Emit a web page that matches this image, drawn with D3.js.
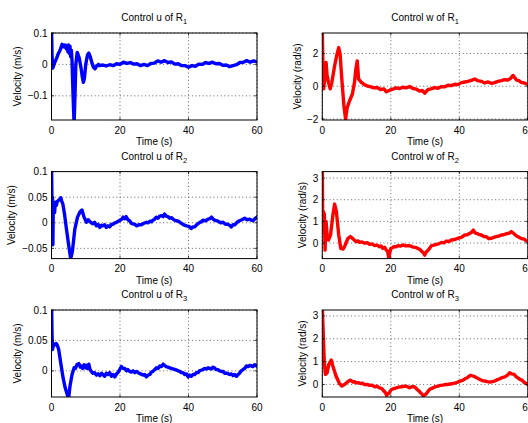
<!DOCTYPE html>
<html>
<head>
<meta charset="utf-8">
<script src="https://cdn.jsdelivr.net/npm/d3@7"></script>
<style>
  html, body { margin: 0; padding: 0; background: #fff; }
  svg { display: block; }
  text { font-family: "Liberation Sans", Arial, Helvetica, sans-serif; fill: #000; }
</style>
</head>
<body>
<svg id="chart" width="528" height="423"></svg>
<script>
// Recorded control inputs of three robots: [time (s), value]
const u1 = [[0,0.12],[0.15,0.03],[0.35,-0.012],[0.9,0.005],[1.5,0.02],[1.9,0.032],[2.5,0.045],[3.1,0.064],[3.5,0.056],[3.9,0.062],[4.3,0.05],[4.6,0.06],[4.8,0.04],[5.0,0.062],[5.2,0.035],[5.4,0.058],[5.6,0.025],[5.8,0.045],[6.0,0.01],[6.3,-0.1],[6.6,-0.19],[6.9,-0.08],[7.1,0.0],[7.5,0.038],[7.8,0.03],[8.1,0.02],[8.6,-0.01],[9.0,-0.04],[9.3,-0.057],[9.6,-0.045],[10.0,0.0],[10.5,0.03],[10.9,0.036],[11.3,0.025],[11.8,0.005],[12.3,-0.01],[12.7,-0.014],[13.2,-0.005],[13.7,0.0],
  [14,-0.004],[15,-0.002],[16,-0.005],[17,-0.001],[18,-0.004],[19,0.002],[20,0.0],[21,0.007],[22,0.003],[23,0.006],[24,0.001],[25,0.002],[26,-0.004],[27,0.0],[28,-0.004],[29,0.003],[30,0.004],[31,0.011],[32,0.007],[33,0.012],[34,0.006],[35,0.008],[36,0.001],[37,0.002],[38,-0.004],[39,-0.004],[40,-0.009],[41,-0.004],[42,-0.006],[43,0.001],[44,0.0],[45,0.006],[46,0.003],[47,0.007],[48,0.002],[49,0.003],[50,-0.003],[51,-0.002],[52,-0.007],[53,-0.004],[54,-0.001],[55,0.006],[56,0.007],[57,0.012],[58,0.007],[59,0.011],[60,0.008]];

const w1 = [[0,3.4],[0.2,1.0],[0.4,-0.16],[0.7,0.44],[1.1,1.45],[1.4,0.65],[1.8,0.24],[2.3,-0.16],[2.8,0.24],[3.6,1.25],[4.3,1.96],[4.8,2.36],[5.2,1.96],[5.7,0.44],[6.3,-1.17],[6.8,-2.0],[7.3,-1.27],[8.0,-0.87],[8.8,-0.46],[9.4,0.24],[9.8,1.05],[10.2,1.55],[10.6,0.44],[11.4,0.24],[12.4,0.08],[13.3,0.0],[14,-0.02],[15,-0.1],[16,-0.08],[17,-0.2],[18,-0.16],[18.7,-0.34],[19.7,-0.24],[20.6,-0.18],[21.5,-0.1],[22.5,-0.14],[23.5,-0.06],[24.5,-0.1],[25.5,-0.02],[26.5,-0.14],[27.5,-0.18],[28.5,-0.3],[29.2,-0.26],[29.9,-0.42],[30.9,-0.2],[31.8,-0.16],[32.8,-0.08],[33.8,-0.12],[34.8,-0.02],[35.7,-0.04],[36.7,0.06],[37.7,0.04],[38.7,0.12],[39.6,0.1],[40.6,0.22],[41.6,0.26],[42.5,0.3],[43.5,0.36],[44.5,0.44],[45.4,0.34],[46.4,0.3],[47.4,0.2],[48.4,0.26],[49.4,0.18],[50.3,0.22],[51.3,0.3],[52.3,0.34],[53.2,0.4],[54.2,0.38],[55.0,0.48],[55.7,0.66],[56.7,0.38],[57.4,0.34],[58.1,0.24],[59,0.2],[59.9,0.12]];

const u2 = [[0,0.12],[0.1,0.06],[0.2,-0.04],[0.3,0.05],[0.4,-0.043],[0.5,0.02],[0.7,0.03],[0.9,0.02],[1.1,0.04],[1.4,0.034],[1.7,0.042],[2.1,0.044],[2.4,0.046],[2.7,0.049],[3.0,0.042],[3.3,0.037],[3.8,0.017],[4.3,-0.009],[5.0,-0.043],[5.6,-0.07],[6.1,-0.056],[6.8,-0.013],[7.6,0.011],[8.3,0.021],[8.9,0.025],[9.5,0.011],[10.2,0.001],[10.7,0.006],[11.1,0.003],[11.6,0.0],[12.1,-0.002],[12.6,0.001],[13.1,-0.006],[13.6,-0.003],[14.1,-0.009],[14.6,-0.005],[15,-0.006],[15.5,-0.004],[16,-0.009],[16.5,-0.006],[17,-0.008],[17.5,-0.003],[18,-0.003],[18.5,0.0],[19,0.001],[19.5,0.003],[20,0.005],[20.5,0.007],[20.9,0.011],[21.4,0.008],[21.8,0.012],[22.3,0.006],[22.8,0.004],[23.3,-0.001],[23.8,-0.002],[24.3,-0.003],[24.8,-0.006],[25.5,-0.004],[26.2,-0.004],[27,-0.001],[27.7,0.001],[28.2,0.0],[28.7,0.003],[29.2,0.002],[29.6,0.005],[30.1,0.007],[30.6,0.011],[31.1,0.009],[31.6,0.013],[32.1,0.014],[32.6,0.012],[33.0,0.017],[33.5,0.013],[34,0.012],[34.5,0.009],[35,0.01],[35.7,0.006],[36.4,0.004],[37.1,0.003],[37.9,-0.001],[38.6,-0.004],[39.4,-0.006],[40.1,-0.007],[40.8,-0.011],[41.3,-0.008],[41.8,-0.008],[42.5,-0.003],[43.3,0.001],[43.8,0.002],[44.2,0.005],[45,0.004],[45.7,0.007],[46.2,0.008],[46.7,0.011],[47.2,0.007],[47.6,0.005],[48.1,0.004],[48.6,0.003],[49.4,0.0],[50.1,0.001],[50.8,-0.003],[51.5,-0.003],[52,-0.005],[52.5,-0.008],[53,-0.004],[53.5,-0.004],[54.2,0.001],[54.9,0.004],[55.6,0.006],[56.4,0.009],[57.1,0.006],[57.9,0.007],[58.4,0.005],[58.8,0.004],[59.4,0.008],[60,0.011]];

const w2 = [[0,3.5],[0.15,0.6],[0.3,1.46],[0.5,1.1],[0.6,1.35],[0.8,-0.33],[1.1,1.0],[1.4,0.37],[1.8,0.14],[2.4,0.37],[3.1,1.3],[3.6,1.8],[4.1,1.46],[4.8,0.37],[5.4,-0.25],[6.1,-0.28],[6.7,-0.09],[7.5,0.22],[8.2,0.3],[9.0,0.19],[9.9,0.06],[10.4,0.1],[10.9,0.03],[11.6,0.05],[12.4,-0.01],[13.1,0.02],[13.8,-0.06],[14.5,-0.04],[15.3,-0.12],[16,-0.1],[16.7,-0.17],[17.2,-0.14],[17.7,-0.25],[18.2,-0.2],[18.7,-0.33],[19.1,-0.4],[19.4,-0.68],[19.7,-0.45],[20,-0.25],[20.5,-0.22],[20.9,-0.17],[21.5,-0.18],[22.1,-0.12],[22.8,-0.14],[23.6,-0.09],[24.3,-0.13],[25,-0.12],[25.8,-0.14],[26.5,-0.19],[27.2,-0.2],[27.9,-0.25],[28.5,-0.3],[29.1,-0.4],[29.5,-0.45],[29.9,-0.56],[30.3,-0.42],[30.7,-0.37],[31.3,-0.25],[31.9,-0.12],[32.6,-0.1],[33.3,-0.06],[34,-0.04],[34.8,0.03],[35.5,0.01],[36.2,0.09],[37,0.07],[37.7,0.14],[38.6,0.16],[39.6,0.22],[40.6,0.26],[41.6,0.37],[42.3,0.38],[43.1,0.45],[43.6,0.5],[44.1,0.6],[44.6,0.47],[45,0.45],[45.7,0.4],[46.4,0.37],[47.2,0.3],[47.9,0.29],[48.6,0.2],[49.4,0.22],[50.1,0.26],[50.8,0.3],[51.5,0.32],[52.3,0.37],[53,0.38],[53.7,0.43],[54.5,0.45],[55.2,0.53],[55.8,0.45],[56.4,0.37],[57,0.3],[57.6,0.25],[58.3,0.2],[58.9,0.19],[59.4,0.12],[59.9,0.09]];

const u3 = [[0,0.12],[0.15,0.06],[0.3,0.035],[0.5,0.041],[0.8,0.044],[1.1,0.043],[1.4,0.045],[1.7,0.042],[2.1,0.035],[2.7,0.013],[3.4,-0.012],[4.0,-0.028],[4.6,-0.039],[5.0,-0.045],[5.4,-0.025],[6.0,-0.006],[6.6,0.005],[7.0,0.004],[7.4,0.01],[8.0,0.012],[8.4,0.006],[8.7,0.008],[9.1,0.004],[9.5,0.01],[9.9,0.005],[10.2,0.009],[10.5,0.004],[10.9,0.011],[11.2,0.003],[11.6,-0.001],[12.1,-0.004],[12.6,-0.003],[13.1,-0.007],[13.6,-0.005],[14.1,-0.008],[14.6,-0.004],[15,-0.006],[15.5,-0.009],[16,-0.004],[16.5,-0.006],[17,-0.003],[17.5,-0.009],[18,-0.006],[18.5,-0.01],[19,-0.005],[19.5,-0.002],[20,0.003],[20.4,0.007],[20.9,0.004],[21.4,0.004],[21.9,0.0],[22.3,0.002],[22.8,-0.001],[23.3,-0.002],[23.8,0.0],[24.3,-0.003],[24.8,-0.001],[25.3,-0.003],[26,-0.005],[26.7,-0.007],[27.2,-0.006],[27.7,-0.01],[28.2,-0.007],[28.7,-0.006],[29.2,-0.002],[29.6,-0.001],[30.1,0.002],[30.6,0.005],[31.1,0.004],[31.6,0.008],[32.1,0.007],[32.6,0.011],[33,0.009],[33.5,0.007],[34,0.006],[34.5,0.005],[35,0.004],[35.5,0.003],[36.2,0.002],[37,0.0],[37.5,-0.001],[37.9,-0.003],[38.4,-0.003],[38.9,-0.006],[39.4,-0.005],[39.9,-0.01],[40.3,-0.007],[40.8,-0.009],[41.3,-0.006],[41.8,-0.006],[42.3,-0.003],[42.8,-0.003],[43.2,0.0],[43.7,0.001],[44.2,0.002],[44.7,0.004],[45.2,0.003],[45.7,0.005],[46.2,0.004],[46.7,0.003],[47.1,0.006],[47.6,0.005],[48.1,0.002],[48.6,0.002],[49.1,0.0],[49.6,-0.001],[50.1,-0.001],[50.6,-0.004],[51.3,-0.004],[52,-0.006],[52.5,-0.005],[53,-0.008],[53.5,-0.006],[54,-0.009],[54.5,-0.006],[54.9,-0.004],[55.4,0.0],[55.9,0.002],[56.4,0.004],[56.9,0.008],[57.4,0.007],[57.9,0.009],[58.4,0.008],[58.8,0.007],[59.3,0.01],[59.8,0.008],[60,0.009]];

const w3 = [[0,3.4],[0.2,2.56],[0.4,1.7],[0.6,0.95],[0.9,0.44],[1.4,0.51],[1.9,0.88],[2.6,1.07],[3.1,0.8],[4.0,0.37],[5.0,0.04],[5.7,-0.07],[6.5,0.0],[7.3,0.1],[8.1,0.19],[8.6,0.15],[9,0.1],[9.5,0.12],[9.9,0.07],[10.5,0.08],[11.2,0.04],[11.8,0.05],[12.4,-0.01],[13.1,0.0],[13.8,-0.04],[14.5,-0.03],[15.3,-0.1],[16,-0.08],[16.7,-0.15],[17.4,-0.18],[18,-0.29],[18.4,-0.35],[18.8,-0.48],[19.1,-0.4],[19.4,-0.4],[19.8,-0.3],[20.2,-0.22],[20.9,-0.18],[21.6,-0.15],[22.3,-0.12],[23.1,-0.1],[23.6,-0.09],[24.2,-0.07],[24.9,-0.1],[25.5,-0.15],[26.1,-0.1],[26.8,-0.1],[27.2,-0.14],[27.7,-0.22],[28.2,-0.28],[28.7,-0.37],[29.1,-0.42],[29.5,-0.49],[30,-0.45],[30.4,-0.4],[30.9,-0.3],[31.3,-0.22],[31.8,-0.18],[32.3,-0.15],[33,-0.1],[33.8,-0.07],[34.5,-0.04],[35.2,-0.03],[36,0.0],[36.7,0.0],[37.4,0.02],[38.1,0.04],[38.9,0.07],[39.6,0.1],[40.3,0.15],[41.1,0.19],[41.7,0.25],[42.3,0.29],[42.8,0.35],[43.3,0.4],[43.9,0.37],[44.5,0.34],[45.2,0.28],[46,0.22],[46.7,0.17],[47.4,0.15],[48.2,0.12],[48.9,0.1],[49.6,0.12],[50.3,0.15],[51,0.2],[51.8,0.25],[52.5,0.3],[53.3,0.33],[54,0.4],[54.7,0.51],[55.3,0.46],[56,0.44],[56.5,0.35],[57.1,0.29],[57.7,0.22],[58.3,0.19],[59,0.08],[59.5,0.04],[59.9,0.0]];

// Axis ticks
const timeTicks = [0, 20, 40, 60];
const uTicks1 = [-0.1, 0, 0.1];
const uTicks2 = [-0.05, 0, 0.05, 0.1];
const uTicks3 = [0, 0.05, 0.1];
const wTicks1 = [-2, 0, 2];
const wTicks23 = [0, 1, 2, 3];

const robots = ["1", "2", "3"];

// Subplot layout (MATLAB-style 3x2 grid)
const plotW = 205.5, plotH = 87;
const colX = [51.5, 322.3];
const rowY = [33, 171.6, 310];

const panels = [
  { data: u1, row: 0, col: 0, kind: "u", yDomain: [-0.177, 0.1], yTicks: uTicks1, ylabX: 20.5 },
  { data: w1, row: 0, col: 1, kind: "w", yDomain: [-2.06, 3.25], yTicks: wTicks1, ylabX: 300.5 },
  { data: u2, row: 1, col: 0, kind: "u", yDomain: [-0.07, 0.1], yTicks: uTicks2, ylabX: 15 },
  { data: w2, row: 1, col: 1, kind: "w", yDomain: [-0.72, 3.3], yTicks: wTicks23, ylabX: 306 },
  { data: u3, row: 2, col: 0, kind: "u", yDomain: [-0.043, 0.1], yTicks: uTicks3, ylabX: 20.5 },
  { data: w3, row: 2, col: 1, kind: "w", yDomain: [-0.55, 3.26], yTicks: wTicks23, ylabX: 306 }
];

const svg = d3.select("#chart");
const fmt = v => (v < 0 ? "\u2212" : "") + String(Math.abs(v));
const tickLen = 2.5;

panels.forEach((p, i) => {
  const x0 = colX[p.col], y0 = rowY[p.row];
  const x = d3.scaleLinear().domain([0, 60]).range([x0, x0 + plotW]);
  const y = d3.scaleLinear().domain(p.yDomain).range([y0 + plotH, y0]);
  const g = svg.append("g");

  g.append("rect").attr("x", x0).attr("y", y0).attr("width", plotW).attr("height", plotH)
    .attr("fill", "#fff");

  // dotted grid
  const grid = g.append("g").attr("stroke", "#222").attr("stroke-width", 0.7)
    .attr("stroke-dasharray", "1,2.6");
  timeTicks.forEach(t => grid.append("line")
    .attr("x1", x(t)).attr("x2", x(t)).attr("y1", y0).attr("y2", y0 + plotH));
  p.yTicks.forEach(v => grid.append("line")
    .attr("x1", x0).attr("x2", x0 + plotW).attr("y1", y(v)).attr("y2", y(v)));

  // signal
  const clipId = "clip" + i;
  g.append("clipPath").attr("id", clipId).append("rect")
    .attr("x", x0).attr("y", y0).attr("width", plotW).attr("height", plotH);
  const line = d3.line().x(d => x(d[0])).y(d => y(d[1]));
  g.append("path").datum(p.data)
    .attr("clip-path", `url(#${clipId})`)
    .attr("d", line)
    .attr("fill", "none")
    .attr("stroke", p.kind === "u" ? "#0000ff" : "#ff0000")
    .attr("stroke-width", 3.4)
    .attr("stroke-linejoin", "round")
    .attr("stroke-linecap", "round");

  // box and inward ticks
  g.append("rect").attr("x", x0).attr("y", y0).attr("width", plotW).attr("height", plotH)
    .attr("fill", "none").attr("stroke", "#000").attr("stroke-width", 1);
  const ticks = g.append("g").attr("stroke", "#000").attr("stroke-width", 0.8);
  timeTicks.forEach(t => {
    ticks.append("line").attr("x1", x(t)).attr("x2", x(t)).attr("y1", y0 + plotH).attr("y2", y0 + plotH - tickLen);
    ticks.append("line").attr("x1", x(t)).attr("x2", x(t)).attr("y1", y0).attr("y2", y0 + tickLen);
  });
  p.yTicks.forEach(v => {
    ticks.append("line").attr("x1", x0).attr("x2", x0 + tickLen).attr("y1", y(v)).attr("y2", y(v));
    ticks.append("line").attr("x1", x0 + plotW).attr("x2", x0 + plotW - tickLen).attr("y1", y(v)).attr("y2", y(v));
  });

  // tick labels
  timeTicks.forEach(t => g.append("text")
    .attr("x", x(t)).attr("y", y0 + plotH + 13.5)
    .attr("text-anchor", "middle").attr("font-size", 10).text(t));
  p.yTicks.forEach(v => g.append("text")
    .attr("x", x0 - 4).attr("y", y(v)).attr("dy", "0.35em")
    .attr("text-anchor", "end").attr("font-size", 10).text(fmt(v)));

  // axis titles
  g.append("text")
    .attr("x", x0 + plotW / 2).attr("y", y0 + plotH + 25)
    .attr("text-anchor", "middle").attr("font-size", 10).text("Time (s)");
  g.append("text")
    .attr("transform", `translate(${p.ylabX},${y0 + plotH / 2}) rotate(-90)`)
    .attr("text-anchor", "middle").attr("font-size", 10)
    .text(p.kind === "u" ? "Velocity (m/s)" : "Velocity (rad/s)");

  // subplot title with subscript robot index
  const title = g.append("text")
    .attr("x", x0 + plotW / 2).attr("y", y0 - 12)
    .attr("text-anchor", "middle").attr("font-size", 10);
  title.append("tspan").text(`Control ${p.kind} of R`);
  title.append("tspan").attr("dy", 3).attr("font-size", 7.5).text(robots[p.row]);
});
</script>
</body>
</html>
